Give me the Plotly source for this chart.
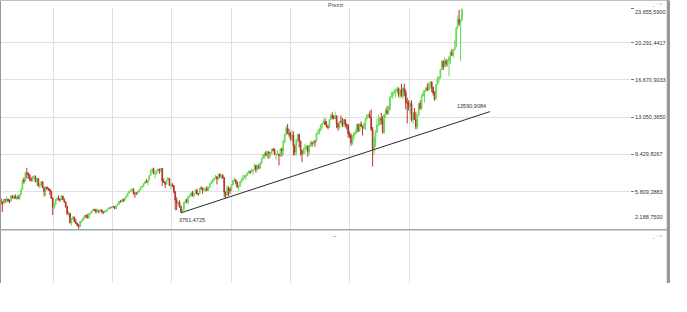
import plotly.graph_objects as go
import pandas as pd

# ---------------- data (monthly candles, Sep 1998 .. May 2025) ----------------
months = pd.date_range("1998-09-01", "2025-05-01", freq="MS").strftime("%Y-%m").tolist()

first_open = 5061

close_values = [
    4834, 4671, 5060, 5002,                                                          # 1998
    5097, 4915, 4884, 5393, 5220, 5378, 5147, 5297, 5150, 5525, 6004, 6958,          # 1999
    6835, 7645, 7599, 7414, 7109, 6898, 7190, 7279, 6798, 7077, 6372, 6434,          # 2000
    6795, 6208, 5830, 6265, 6123, 6058, 5861, 5188, 4308, 4560, 5041, 5160,          # 2001
    5108, 5039, 5397, 5041, 4818, 4383, 3700, 3712, 2769, 3153, 3320, 2893,          # 2002
    2748, 2547, 2424, 2942, 2983, 3221, 3487, 3485, 3257, 3655, 3746, 3965,          # 2003
    4059, 4018, 3856, 3985, 3921, 4052, 3895, 3785, 3893, 3960, 4126, 4256,          # 2004
    4255, 4351, 4349, 4185, 4461, 4586, 4887, 4829, 5044, 4929, 5193, 5408,          # 2005
    5674, 5796, 5970, 6009, 5693, 5683, 5682, 5860, 6004, 6268, 6309, 6597,          # 2006
    6789, 6716, 6917, 7409, 7883, 8007, 7584, 7638, 7861, 8019, 7870, 8067,          # 2007
    6851, 6748, 6535, 6949, 7096, 6418, 6479, 6422, 5831, 4988, 4669, 4810,          # 2008
    4338, 3843, 4085, 4770, 4941, 4809, 5332, 5458, 5675, 5414, 5625, 5957,          # 2009
    5608, 5598, 6154, 6136, 5965, 5966, 6148, 5925, 6229, 6601, 6688, 6914,          # 2010
    7077, 7273, 7041, 7514, 7294, 7376, 7159, 5785, 5502, 6141, 6089, 5898,          # 2011
    6458, 6856, 6947, 6761, 6264, 6416, 6772, 6970, 7216, 7261, 7405, 7612,          # 2012
    7776, 7741, 7795, 7914, 8349, 7959, 8276, 8103, 8594, 9033, 9406, 9552,          # 2013
    9306, 9692, 9556, 9603, 9943, 9833, 9407, 9470, 9474, 9327, 9981, 9806,          # 2014
    10694, 11402, 11966, 11454, 11413, 10945, 11309, 10259, 9660, 10850, 11382, 10743,   # 2015
    9798, 9495, 9966, 10039, 10263, 9680, 10337, 10592, 10511, 10665, 10640, 11481,      # 2016
    11535, 11834, 12313, 12438, 12615, 12325, 12118, 12056, 12829, 13230, 13024, 12918,  # 2017
    13189, 12436, 12097, 12612, 12605, 12306, 12806, 12364, 12247, 11447, 11257, 10559,  # 2018
    11173, 11516, 11526, 12344, 11727, 12399, 12189, 11939, 12428, 12867, 13236, 13249,  # 2019
    12982, 11890, 9936, 11107, 11587, 12311, 12313, 12945, 12761, 11556, 13291, 13719,   # 2020
    13433, 13786, 15008, 15136, 15421, 15531, 15544, 15835, 15261, 15688, 15100, 15885,  # 2021
    15471, 14461, 14415, 14098, 14388, 12784, 13484, 12835, 12114, 13254, 14397, 13924,  # 2022
    15128, 15365, 15629, 15922, 15664, 16148, 16447, 15947, 15387, 14810, 16215, 16752,  # 2023
    16904, 17678, 18492, 17932, 18498, 18235, 18509, 18907, 19325, 19078, 19626, 19909,  # 2024
    21732, 22551, 22163, 22497, 23500,                                                   # 2025
]

high_values = [
    5250, 4900, 5150, 5100,
    5350, 5130, 5050, 5490, 5460, 5500, 5560, 5400, 5500, 5560, 6100, 6960,
    7200, 7730, 8136, 7670, 7550, 7220, 7350, 7410, 7400, 7190, 7140, 6650,
    6830, 6800, 6300, 6350, 6300, 6200, 6100, 5900, 5250, 4700, 5100, 5280,
    5460, 5140, 5470, 5400, 5170, 4850, 4400, 3950, 3750, 3250, 3450, 3400,
    3160, 2800, 2680, 2960, 3050, 3300, 3500, 3570, 3650, 3700, 3800, 3970,
    4160, 4160, 4160, 4150, 4000, 4100, 4070, 3920, 4000, 4010, 4150, 4270,
    4300, 4400, 4440, 4400, 4470, 4660, 4900, 4980, 5070, 5150, 5210, 5470,
    5680, 5900, 6020, 6150, 6160, 5700, 5740, 5900, 6020, 6300, 6400, 6610,
    6800, 7040, 6940, 7410, 7890, 8080, 8150, 7650, 7900, 8020, 8040, 8100,
    8100, 7100, 6760, 6970, 7230, 7100, 6520, 6640, 6450, 5840, 5250, 4840,
    4980, 4470, 4100, 4820, 5090, 5160, 5350, 5540, 5760, 5890, 5740, 6030,
    6100, 5670, 6160, 6340, 6220, 6230, 6210, 6340, 6300, 6640, 6880, 7080,
    7180, 7440, 7290, 7530, 7600, 7440, 7530, 7220, 5800, 6430, 6320, 6230,
    6530, 6970, 7190, 7060, 6800, 6450, 6800, 7060, 7480, 7450, 7470, 7700,
    7880, 7870, 8060, 7940, 8560, 8420, 8460, 8490, 8690, 9050, 9420, 9620,
    9790, 9720, 9700, 9650, 9950, 10050, 10030, 9520, 9890, 9500, 10000, 10090,
    10810, 11410, 12220, 12390, 11920, 11600, 11800, 11670, 10400, 10900, 11430, 11420,
    10760, 9880, 10100, 10480, 10310, 10280, 10380, 10800, 10660, 10830, 10830, 11490,
    11890, 12030, 12330, 12490, 12840, 12950, 12680, 12330, 12830, 13340, 13530, 13260,
    13600, 13200, 12550, 12630, 13210, 12960, 12890, 12880, 12450, 12370, 11650, 11480,
    11300, 11580, 11820, 12380, 12440, 12440, 12660, 12200, 12490, 12960, 13370, 13430,
    13640, 13800, 12100, 11140, 11800, 12910, 13310, 13050, 13460, 13170, 13340, 13910,
    14130, 14170, 15010, 15500, 15570, 15800, 15810, 16030, 15950, 15790, 16290, 15940,
    16290, 15740, 14930, 14700, 14580, 14700, 13530, 13950, 13580, 13350, 14430, 14680,
    15270, 15660, 15710, 15940, 16330, 16430, 16530, 16530, 16040, 15580, 16250, 17000,
    17020, 17680, 18570, 18570, 18890, 18690, 18690, 18930, 19490, 19680, 19670, 20520,
    21800, 22940, 23476, 22540, 23655.59,
]

low_values = [
    4530, 3833, 4580, 4700,
    4800, 4780, 4680, 4860, 5140, 5050, 5120, 4990, 5080, 5030, 5450, 5990,
    6580, 6770, 7110, 7050, 6830, 6800, 6780, 7010, 6730, 6430, 6310, 6100,
    6300, 6150, 5350, 5420, 5980, 5900, 5500, 5100, 3540, 4150, 4500, 4900,
    4950, 4830, 5000, 5010, 4740, 4250, 3550, 3400, 2750, 2519, 3100, 2850,
    2690, 2450, 2188.75, 2400, 2800, 2960, 3150, 3270, 3220, 3200, 3580, 3720,
    3930, 3920, 3690, 3850, 3690, 3880, 3750, 3620, 3780, 3790, 3940, 4110,
    4170, 4220, 4300, 4100, 4170, 4420, 4580, 4770, 4790, 4800, 4910, 5180,
    5380, 5600, 5780, 5860, 5520, 5240, 5480, 5570, 5750, 5990, 6190, 6290,
    6550, 6690, 6440, 6900, 7380, 7680, 7480, 7090, 7480, 7700, 7550, 7700,
    6380, 6660, 6170, 6510, 6900, 6380, 6100, 6250, 5660, 4010, 4030, 4400,
    4270, 3761.47, 3810, 4000, 4680, 4680, 4570, 5230, 5290, 5350, 5240, 5620,
    5540, 5430, 5590, 6000, 5610, 5860, 5780, 5900, 5900, 6220, 6570, 6680,
    6860, 7050, 6510, 7000, 7130, 7040, 7060, 5270, 5180, 5370, 5370, 5610,
    5880, 6420, 6750, 6520, 6170, 5910, 6240, 6690, 6900, 7160, 6950, 7390,
    7600, 7530, 7690, 7460, 7900, 7650, 7880, 8000, 8050, 8490, 9020, 9020,
    9270, 9020, 9000, 9170, 9410, 9730, 9400, 8900, 9360, 8355, 9200, 9220,
    9380, 10540, 11300, 11420, 11150, 10790, 10680, 9340, 9330, 9330, 10570, 10120,
    9310, 8700, 9480, 9480, 9800, 9210, 9380, 10170, 10180, 10390, 10170, 10620,
    11350, 11390, 11710, 11930, 12420, 12280, 12070, 11870, 12050, 12800, 12840, 12830,
    12870, 11980, 11730, 11930, 12540, 12090, 12110, 12050, 11870, 11050, 11010, 10280,
    10380, 10870, 11310, 11500, 11620, 11620, 12100, 11270, 11870, 11840, 12860, 12990,
    12940, 11720, 8256, 9400, 10160, 11560, 12190, 12250, 12340, 11450, 11450, 12980,
    13310, 13300, 13700, 14970, 14820, 15330, 14960, 15400, 15020, 14820, 15000, 14820,
    15060, 13800, 12440, 13700, 13380, 12620, 12390, 12800, 11860, 11870, 13200, 13790,
    13760, 15040, 14460, 15480, 15630, 15650, 15760, 15470, 15160, 14630, 14810, 16190,
    16350, 16790, 17650, 17630, 17900, 17990, 17960, 17020, 18210, 19000, 18840, 19500,
    19880, 21650, 21930, 18490, 22400,
]

open_values = [first_open] + close_values[:-1]
bar_index = list(range(len(close_values)))

# price axis
y_tick_values = [2188.75, 5809.2883, 9429.8267, 13050.3650, 16670.9033, 20291.4417, 23655.59]
y_tick_labels = ["2.188,7500", "5.809,2883", "9.429,8267", "13.050,3650",
                 "16.670,9033", "20.291,4417", "23.655,5900"]

# trend line (bar index, price)
trend_x = [125, 339.4]
trend_y = [3761.4725, 13590.9084]
trend_labels = ["3761,4725", "13590,9084"]

chart_title = "Prezzi"

# ---------------- layout geometry (pixels, whole figure as paper) ----------------
W, H = 687, 312
PLOT_RIGHT = 630
MAIN_TOP, MAIN_BOTTOM = 8, 229
LOW_TOP, LOW_BOTTOM = 231, 283
FRAME_RIGHT = 667.5


def py(p):  # pixel y -> paper y
    return (H - p) / H


def px(p):  # pixel x -> paper x
    return p / W


grid_start, grid_step, grid_count = 36.2, 41.2, 7
grid_vals = [grid_start + k * grid_step for k in range(grid_count)]

FONT = "Liberation Sans, Arial, sans-serif"
GRID = "#e0e0e0"
LABEL_SIZE = 5.5

fig = go.Figure()

fig.add_trace(go.Candlestick(
    x=bar_index, open=open_values, high=high_values, low=low_values, close=close_values,
    text=months, hoverinfo="text+y",
    increasing=dict(line=dict(color="#66dc55", width=1), fillcolor="#66dc55"),
    decreasing=dict(line=dict(color="#b8322a", width=1), fillcolor="#b8322a"),
    whiskerwidth=0, xaxis="x", yaxis="y", showlegend=False,
))

fig.add_trace(go.Scatter(
    x=trend_x, y=trend_y, mode="lines", line=dict(color="#2a2a2a", width=1),
    hoverinfo="skip", showlegend=False, xaxis="x", yaxis="y",
))

invisible = dict(mode="markers", marker=dict(size=1, color="rgba(0,0,0,0)"),
                 hoverinfo="skip", showlegend=False)
fig.add_trace(go.Scatter(x=[0], y=[0.5], xaxis="x2", yaxis="y2", **invisible))
fig.add_trace(go.Scatter(x=[0.5], y=[0.5], xaxis="x3", yaxis="y3", **invisible))

x_common = dict(
    range=[-0.6, 436.6], tickvals=grid_vals, showticklabels=False, ticks="",
    showgrid=True, gridcolor=GRID, gridwidth=1, zeroline=False, showline=False,
)
frame_axis = dict(range=[0, 1], showgrid=False, zeroline=False, showticklabels=False,
                  ticks="", fixedrange=True)

fig.update_layout(
    width=W, height=H,
    margin=dict(l=0, r=0, t=0, b=0, pad=0),
    paper_bgcolor="white", plot_bgcolor="rgba(0,0,0,0)",
    font=dict(family=FONT, size=LABEL_SIZE, color="#333333"),
    showlegend=False,
    xaxis=dict(domain=[0, px(PLOT_RIGHT)], anchor="y",
               rangeslider=dict(visible=False), **x_common),
    yaxis=dict(
        domain=[py(MAIN_BOTTOM), py(MAIN_TOP)], anchor="x", side="right",
        range=[y_tick_values[0], y_tick_values[-1]],
        tickvals=y_tick_values,
        ticktext=[""] + y_tick_labels[1:-1] + [""],
        ticks="outside", ticklen=3, tickcolor="#777777", tickwidth=1,
        tickfont=dict(family=FONT, size=LABEL_SIZE, color="#333333"),
        showgrid=True, gridcolor=GRID, gridwidth=1, zeroline=False, showline=False,
    ),
    xaxis2=dict(domain=[0, px(PLOT_RIGHT)], anchor="y2", matches="x", **x_common),
    yaxis2=dict(domain=[py(LOW_BOTTOM), py(LOW_TOP)], anchor="x2", range=[0, 1],
                showgrid=False, showticklabels=False, zeroline=False, ticks=""),
    # window frame (left/right/top edges) drawn with axis lines
    xaxis3=dict(domain=[px(0.5), px(FRAME_RIGHT)], anchor="y3", side="top",
                showline=True, linecolor="#c0c0c0", linewidth=1.5, **frame_axis),
    yaxis3=dict(domain=[py(LOW_BOTTOM), py(0.75)], anchor="x3",
                showline=True, mirror=True, linecolor="#999999", linewidth=1.5, **frame_axis),
)

# panel separator and right edge
fig.add_shape(x0=0, x1=px(FRAME_RIGHT), y0=py(229.75), y1=py(229.75),
              xref="paper", yref="paper", type="line", layer="above",
              line=dict(color="#9ba8b6", width=1.5))
fig.add_shape(x0=px(FRAME_RIGHT), x1=px(FRAME_RIGHT), y0=py(LOW_BOTTOM), y1=py(0),
              xref="paper", yref="paper", type="line", layer="above",
              line=dict(color="#999999", width=1.5))

ann_font = dict(family=FONT, size=LABEL_SIZE, color="#333333")

# title
fig.add_annotation(text=chart_title, xref="paper", yref="paper", x=px(335), y=py(5),
                   xanchor="center", yanchor="middle", showarrow=False,
                   font=dict(family=FONT, size=LABEL_SIZE, color="#444444"))

# axis end labels
fig.add_annotation(text=y_tick_labels[-1], xref="paper", yref="paper", x=px(633), y=py(12.5),
                   xanchor="left", yanchor="middle", showarrow=False, font=ann_font)
fig.add_annotation(text=y_tick_labels[0], xref="paper", yref="paper", x=px(633), y=py(217),
                   xanchor="left", yanchor="middle", showarrow=False, font=ann_font)

# trend line labels
fig.add_annotation(text=trend_labels[0], x=trend_x[0], y=trend_y[0], xref="x", yref="y",
                   xanchor="left", yanchor="top", xshift=-4, yshift=-2,
                   showarrow=False, font=ann_font)
fig.add_annotation(text=trend_labels[1], x=trend_x[1], y=trend_y[1], xref="x", yref="y",
                   xanchor="right", yanchor="bottom", xshift=-2, yshift=1,
                   showarrow=False, font=ann_font)

# lower panel title dash and window icons
fig.add_annotation(text="–", xref="paper", yref="paper", x=px(335), y=py(236),
                   xanchor="center", yanchor="middle", showarrow=False,
                   font=dict(family=FONT, size=6, color="#333333"))
for yy in (4, 236):
    fig.add_annotation(text="_ ▫ ×", xref="paper", yref="paper", x=px(664), y=py(yy),
                       xanchor="right", yanchor="middle", showarrow=False,
                       font=dict(family=FONT, size=5, color="#b0b0b0"))

fig.write_html("out.html")
